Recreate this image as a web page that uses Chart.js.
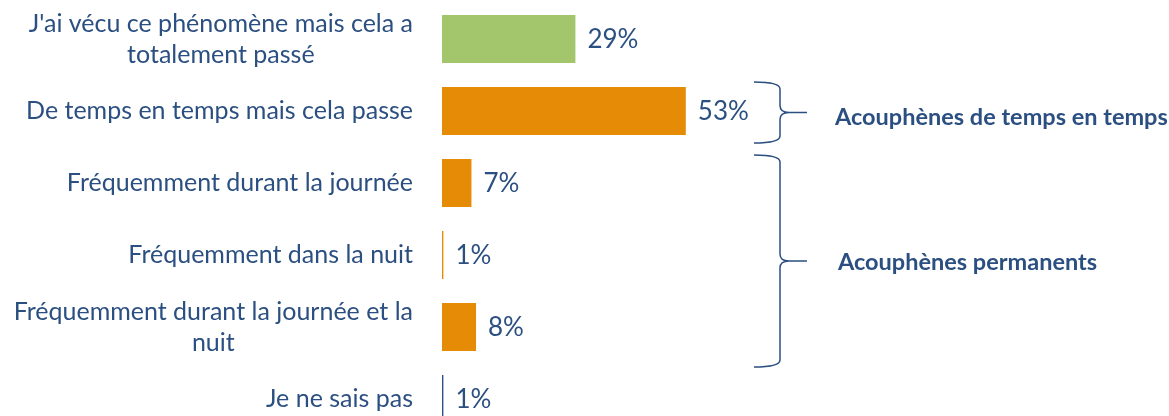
<!DOCTYPE html>
<html lang="fr">
<head>
<meta charset="utf-8">
<script src="https://cdn.jsdelivr.net/npm/chart.js@4.4.0/dist/chart.umd.min.js"></script>
<style>
  html, body { margin: 0; padding: 0; background: #fff; overflow: hidden; }
  #wrap { width: 1169px; height: 416px; overflow: hidden; }
</style>
</head>
<body>
<div id="wrap"><canvas id="grafico" width="1169" height="440"></canvas></div>
<script>
const categorias = [
  ["J'ai vécu ce phénomène mais cela a", "totalement passé"],
  "De temps en temps mais cela passe",
  "Fréquemment durant la journée",
  "Fréquemment dans la nuit",
  ["Fréquemment durant la journée et la", "nuit"],
  "Je ne sais pas",
];
// longueur des barres
const valeurs = [29, 53, 6.4, 0.3, 7.4, 0.3];
// étiquettes affichées à côté des barres
const etiquettes = ["29%", "53%", "7%", "1%", "8%", "1%"];
const couleurs = ["#A3C56B", "#E68B06", "#E68B06", "#E68B06", "#E68B06", "#2B4F81"];
const groupes = ["Acouphènes de temps en temps", "Acouphènes permanents"];

const BLEU = "#2B4F81";
const POLICE = "Lato, 'Open Sans', sans-serif";

// libellés de l'axe : centrés ligne par ligne, calés à droite
const pluginLibelles = {
  id: "libelles",
  afterDraw(chart) {
    const ctx = chart.ctx;
    const y = chart.scales.y;
    const x = chart.scales.x;
    const droite = chart.chartArea.left - 29;
    ctx.save();
    ctx.fillStyle = BLEU;
    ctx.textBaseline = "middle";
    categorias.forEach((lab, i) => {
      const lignes = Array.isArray(lab) ? lab : [lab];
      ctx.font = "25px " + POLICE;
      const larg = Math.max(...lignes.map((l) => ctx.measureText(l).width));
      const cx = droite - larg / 2;
      const cy = y.getPixelForValue(i);
      ctx.textAlign = "center";
      lignes.forEach((l, k) => {
        ctx.fillText(l, cx, cy + (k - (lignes.length - 1) / 2) * 31);
      });
      ctx.font = "26px " + POLICE;
      ctx.textAlign = "left";
      ctx.fillText(etiquettes[i], x.getPixelForValue(valeurs[i]) + 12, cy + 1);
    });
    ctx.restore();
  },
};

function accolade(ctx, x0, x1, pointe, haut, bas) {
  const mid = (haut + bas) / 2;
  ctx.beginPath();
  ctx.moveTo(x0, haut);
  ctx.quadraticCurveTo(x1, haut, x1, haut + 7);
  ctx.lineTo(x1, mid - 7);
  ctx.quadraticCurveTo(x1, mid, x1 + 9, mid);
  ctx.lineTo(pointe, mid);
  ctx.moveTo(x1 + 9, mid);
  ctx.quadraticCurveTo(x1, mid, x1, mid + 7);
  ctx.lineTo(x1, bas - 7);
  ctx.quadraticCurveTo(x1, bas, x0, bas);
  ctx.stroke();
}

// accolades de regroupement à droite
const pluginAccolades = {
  id: "accolades",
  afterDraw(chart) {
    const ctx = chart.ctx;
    const y = chart.scales.y;
    ctx.save();
    ctx.strokeStyle = BLEU;
    ctx.lineWidth = 1.5;
    const h1 = y.getPixelForValue(1) - 29, b1 = y.getPixelForValue(1) + 32;
    const h2 = y.getPixelForValue(2) - 28, b2 = y.getPixelForValue(4) + 40;
    accolade(ctx, 754, 780, 807, h1, b1);
    accolade(ctx, 754, 780, 807, h2, b2);
    ctx.fillStyle = BLEU;
    ctx.font = "bold 23.5px " + POLICE;
    ctx.textAlign = "left";
    ctx.textBaseline = "middle";
    ctx.fillText(groupes[0], 835, (h1 + b1) / 2 + 5);
    ctx.fillText(groupes[1], 838, (h2 + b2) / 2 + 1);
    ctx.restore();
  },
};

new Chart(document.getElementById("grafico"), {
  type: "bar",
  data: {
    labels: categorias,
    datasets: [{
      data: valeurs,
      backgroundColor: couleurs,
      borderWidth: 0,
      categoryPercentage: 1,
      barPercentage: 0.667,
      minBarLength: 1,
    }],
  },
  options: {
    indexAxis: "y",
    responsive: false,
    animation: false,
    devicePixelRatio: 1,
    layout: { padding: { left: 442, top: 3, bottom: 5, right: 267 } },
    scales: {
      x: { display: false, min: 0, max: 100 },
      y: { display: false },
    },
    plugins: { legend: { display: false }, tooltip: { enabled: false } },
  },
  plugins: [pluginLibelles, pluginAccolades],
});
</script>
</body>
</html>
